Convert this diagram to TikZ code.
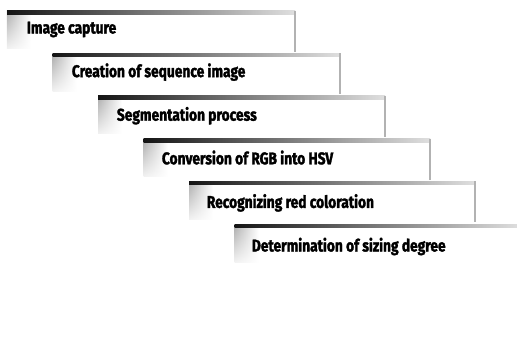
\documentclass[tikz,border=0pt]{standalone}
\usepackage{fontspec}
\newfontfamily\stepfont[FakeStretch=0.81, FakeBold=1.8]{Fira Sans}
\usetikzlibrary{fadings}

% side shading stays fairly solid, then thins out near the bottom
\tikzfading[name=fade down soft, top color=transparent!0, bottom color=transparent!85]

\tikzset{
  stepbox/.style={fill=white, draw=none, minimum width=288pt, minimum height=42pt,
    anchor=north west, inner sep=0pt},
  steplabel/.style={font=\stepfont\bfseries\fontsize{17}{19}\selectfont,
    anchor=base west, inner sep=0pt, text=black},
  topbar/.style={left color=black!92, middle color=gray!60, right color=gray!25},
  sideshade/.style={left color=gray!65, right color=white, path fading=fade down soft},
  edgeline/.style={draw=gray!60, line width=1.6pt}
}

\begin{document}
\begin{tikzpicture}[x=1pt,y=-1pt]
\useasboundingbox (0,0) rectangle (517,354);
\clip (0,0) rectangle (517,354);
\foreach \i/\t in {0/Image capture,
                   1/Creation of sequence image,
                   2/Segmentation process,
                   3/Conversion of RGB into HSV,
                   4/Recognizing red coloration,
                   5/Determination of sizing degree}
{
  \pgfmathsetmacro\xl{7+45.5*\i}
  \pgfmathsetmacro\yt{10.5+42.7*\i}
  \pgfmathsetmacro\xr{295+45*\i}
  % white step panel
  \node[stepbox] (b\i) at (\xl,\yt) {};
  % grey shading along the left side
  \shade[sideshade] (\xl,\yt) rectangle (\xl+24,\yt+38);
  % dark bar along the top edge
  \shade[topbar] (\xl,\yt) rectangle (\xr,\yt+3.5);
  % thin line down the right edge
  \draw[edgeline] (\xr,\yt) -- (\xr,\yt+41);
  % step label
  \node[steplabel] (t\i) at (26.7+45*\i,33.5+43.6*\i) {\t};
}
\end{tikzpicture}
\end{document}
